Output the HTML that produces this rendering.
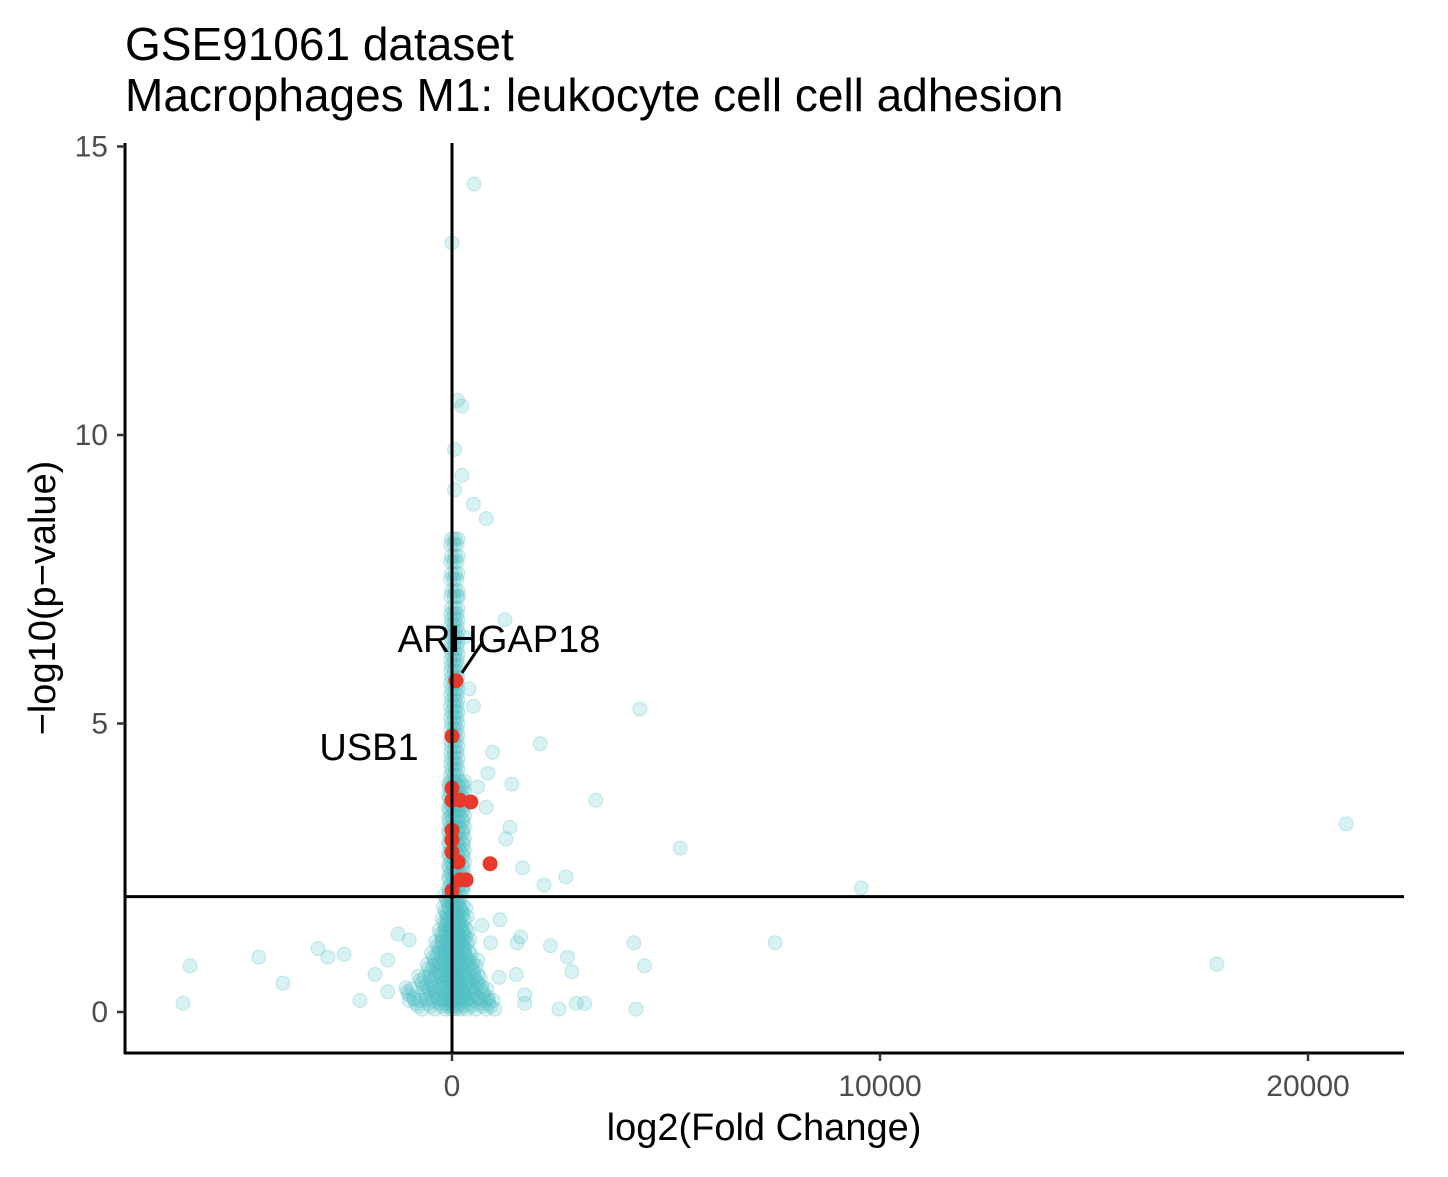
<!DOCTYPE html>
<html><head><meta charset="utf-8"><style>
body{margin:0;background:#fff;font-family:"Liberation Sans",Arial,sans-serif}
svg text{font-family:"Liberation Sans",Arial,sans-serif}
</style></head><body>
<svg id="chart" width="1448" height="1172" xmlns="http://www.w3.org/2000/svg">
<rect width="1448" height="1172" fill="#fff"/>
<text x="125" y="60" font-size="46" fill="#000">GSE91061 dataset</text>
<text x="125" y="111" font-size="46" fill="#000">Macrophages M1: leukocyte cell cell adhesion</text>
<g id="pts"></g>
<g id="axes"></g>
</svg>
<script>
const bgX=[514,0,130,230,60,230,60,500,800,1240,4390,2060,3360,20890,5330,9560,7550,17870,4250,4500,4300,2800,2700,2300,2900,2500,3100,1700,1700,1500,1520,-6120,-6285,-4510,-3950,-3130,-2900,-2520,-2150,-1500,-1500,-1800,-1260,-1000,-1000,2660,2150,1650,1260,1350,1400,840,950,800,600,500,400,300,150,1120,700,900,600,1100,1600];
const bgY=[14.35,13.33,10.6,10.5,9.75,9.3,9.05,8.8,8.55,6.8,5.25,4.65,3.67,3.26,2.84,2.15,1.2,0.83,1.2,0.8,0.05,0.7,0.95,1.15,0.15,0.05,0.15,0.15,0.3,0.65,1.2,0.8,0.15,0.95,0.5,1.1,0.95,1.0,0.2,0.9,0.35,0.65,1.35,1.25,0.2,2.34,2.2,2.5,3.0,3.2,3.95,4.14,4.5,3.55,3.9,5.3,5.6,6.5,7.2,1.6,1.5,1.2,0.9,0.6,1.3];
const coreRowsY=[0.1,0.3,0.5,0.7,0.9,1.1,1.3,1.5,1.7,1.9];
const coreRowsX=[[-800,-500,-250,-100,0,100,250,450,700,900],[-1000,-600,-350,-150,0,150,300,500,750],[-700,-450,-200,-50,80,200,400,600],[-500,-300,-120,0,120,300,500],[-400,-200,-60,60,200,380],[-300,-150,0,150,300],[-220,-90,40,180,320],[-150,-40,80,220],[-120,0,120,260],[-90,20,150]];
const midY=[2.1,2.3,2.5,2.7,2.9,3.1,3.3,3.5,3.7,3.9];
const midX=[-60,40,140,260];
const upY=[4.1,4.3,4.5,4.7,4.9,5.1,5.3,5.5,5.7,5.9,6.1,6.3,6.5,6.7,6.9,7.2,7.5,7.8,8.1];
const upX=[-30,50,120];
const redX=[93,0,0,0,190,440,0,0,0,140,890,190,330,0];
const redY=[5.74,4.78,3.88,3.67,3.67,3.64,3.15,2.98,2.77,2.6,2.57,2.29,2.29,2.1];
const xTicks=[0,10000,20000];
const yTicks=[0,5,10,15];
const labelText=["ARHGAP18","USB1"];

const sx=v=>452+v*0.0428, sy=v=>1012-v*57.7;
const NS="http://www.w3.org/2000/svg";
const pts=document.getElementById('pts'), ax=document.getElementById('axes');
function mk(tag,attrs,parent){const e=document.createElementNS(NS,tag);for(const k in attrs)e.setAttribute(k,attrs[k]);parent.appendChild(e);return e;}
function bg(x,y){const c=mk('circle',{cx:sx(x),cy:sy(y),r:7,fill:'#4fc0c4','fill-opacity':0.22,stroke:'#4fc0c4','stroke-opacity':0.3,'stroke-width':1},pts);

}
bgX.forEach((x,i)=>bg(x,bgY[i]));
coreRowsY.forEach((y,i)=>{coreRowsX[i].forEach(x=>{bg(x,y);bg(x+60,y+0.1);bg(x-40,y+0.05);bg(x+100,y-0.05);bg(x-80,y+0.12);});});
midY.forEach(y=>midX.forEach(x=>{bg(x,y);bg(x+30,y+0.1);bg(x-20,y+0.05);}));
upY.forEach(y=>upX.forEach(x=>{bg(x,y);bg(x+20,y+0.1);}));
redX.forEach((x,i)=>{const c=mk('circle',{cx:sx(x),cy:sy(redY[i]),r:7.5,fill:'#e8392a'},pts);

});
let l=mk('line',{x1:452,y1:143,x2:452,y2:1053,stroke:'#000','stroke-width':3},ax);


l=mk('line',{x1:125,y1:sy(2),x2:1404,y2:sy(2),stroke:'#000','stroke-width':3},ax);


l=mk('line',{x1:125,y1:143,x2:125,y2:1054,stroke:'#000','stroke-width':3},ax);


l=mk('line',{x1:124,y1:1053,x2:1404,y2:1053,stroke:'#000','stroke-width':3},ax);


xTicks.forEach(t=>{mk('line',{x1:sx(t),y1:1053,x2:sx(t),y2:1061,stroke:'#333','stroke-width':2.5},ax);
const tx=mk('text',{x:sx(t),y:1096,'font-size':30,fill:'#4d4d4d','text-anchor':'middle'},ax);tx.textContent=t;

});
yTicks.forEach(t=>{mk('line',{x1:117,y1:sy(t),x2:125,y2:sy(t),stroke:'#333','stroke-width':2.5},ax);
const tx=mk('text',{x:108,y:sy(t)+10,'font-size':30,fill:'#4d4d4d','text-anchor':'end'},ax);tx.textContent=t;

});
let t=mk('text',{x:764,y:1140,'font-size':38,fill:'#000','text-anchor':'middle'},ax);t.textContent='log2(Fold Change)';


t=mk('text',{x:0,y:0,'font-size':38,fill:'#000','text-anchor':'middle',transform:'translate(55,598) rotate(-90)'},ax);t.textContent='\u2212log10(p\u2212value)';


l=mk('line',{x1:sx(redX[0])+6,y1:sy(redY[0])-8,x2:482,y2:643,stroke:'#000','stroke-width':3},ax);


t=mk('text',{x:499,y:652,'font-size':38,fill:'#000','text-anchor':'middle'},ax);t.textContent=labelText[0];


t=mk('text',{x:369,y:760,'font-size':38,fill:'#000','text-anchor':'middle'},ax);t.textContent=labelText[1];


</script>
</body></html>
